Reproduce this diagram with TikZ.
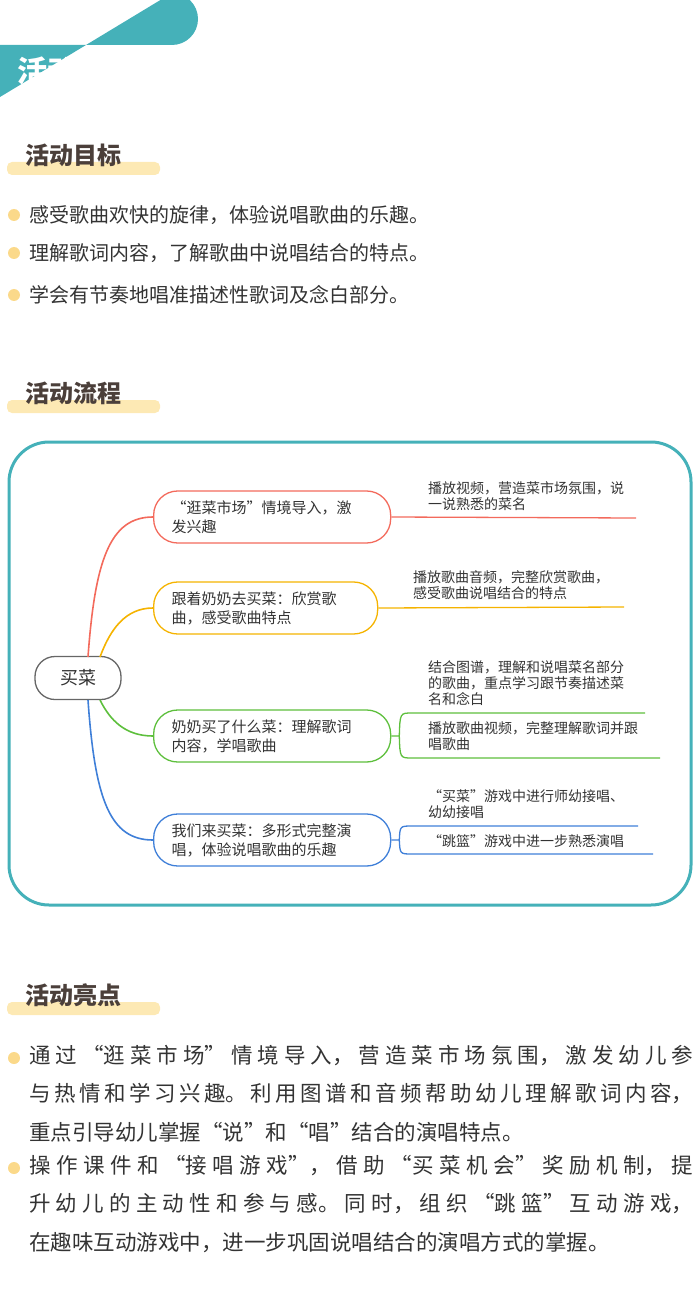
\documentclass[tikz,border=0pt]{standalone}
\usepackage{fontspec}
\setmainfont{Noto Sans CJK SC}
\XeTeXlinebreaklocale "zh"
\XeTeXlinebreakskip=0pt plus 3pt
\usetikzlibrary{positioning}
\definecolor{teal}{HTML}{45B1B9}
\definecolor{barY}{HTML}{FDE9B4}
\definecolor{dotY}{HTML}{FBD98A}
\definecolor{brownT}{HTML}{4B3F3A}
\definecolor{txt}{HTML}{333333}
\definecolor{mRed}{HTML}{F36A5C}
\definecolor{mOrange}{HTML}{F5B300}
\definecolor{mGreen}{HTML}{5DBF3C}
\definecolor{mBlue}{HTML}{3F7FD8}
\tikzset{%
    title/.style={font=\fontsize{24}{24}\selectfont\bfseries, text=brownT, anchor=west, inner sep=0pt},
    point/.style={font=\fontsize{20}{20}\selectfont, text=txt, anchor=west, inner sep=0pt},
    branch/.style 2 args={draw=#1, line width=1.3pt, rounded corners=24pt, minimum height=52pt, text width=#2,
        font=\fontsize{15}{19}\selectfont, text=txt, align=left, anchor=west, inner xsep=18pt},
    leaf/.style={font=\fontsize{14}{16}\selectfont, text=txt, align=left, anchor=south west, inner sep=0pt},
    link/.style={draw=#1, line width=1.6pt}
}
\begin{document}
\begin{tikzpicture}[x=1pt,y=-1pt]
\useasboundingbox (0,0) rectangle (699,1305);
% header
\fill[teal] (0,45) -- (172,45) arc (90:-90:26) -- (0,97) -- cycle;
\node[anchor=west, text=white, font=\fontsize{30}{30}\selectfont\bfseries, inner sep=0pt] (head) at (17,71) {活动介绍：};
% section titles
\foreach \y/\t [count=\i] in {155/活动目标, 393/活动流程, 995/活动亮点}{
    \fill[barY, rounded corners=5pt] (7,\y+7) rectangle (160,\y+20);
    \node[title] (sec\i) at (25,\y) {\t};
}
% goals
\foreach \y/\t [count=\i] in {215/感受歌曲欢快的旋律，体验说唱歌曲的乐趣。, 253/理解歌词内容，了解歌曲中说唱结合的特点。, 295/学会有节奏地唱准描述性歌词及念白部分。}{
    \fill[dotY] (14,\y) circle (6);
    \node[point] (goal\i) at (29,\y) {\t};
}
% mind map frame
\draw[teal, line width=3pt, rounded corners=40pt] (9,442) rectangle (691,905);
\node[draw=gray!80!black, line width=1.3pt, rounded corners=20pt, minimum width=86pt, minimum height=43pt,
      font=\fontsize{18}{18}\selectfont, text=txt] (root) at (78,678) {买菜};
\node[branch={mRed}{201pt}] (b1) at (153,517) {“逛菜市场”情境导入，激\\发兴趣};
\node[branch={mOrange}{188pt}] (b2) at (153,608) {跟着奶奶去买菜：欣赏歌\\曲，感受歌曲特点};
\node[branch={mGreen}{201pt}] (b3) at (153,736) {奶奶买了什么菜：理解歌词\\内容，学唱歌曲};
\node[branch={mBlue}{201pt}] (b4) at (153,840) {我们来买菜：多形式完整演\\唱，体验说唱歌曲的乐趣};
% root links
\draw[link=mRed] (88,657) .. controls (95,560) and (110,517) .. (b1.west);
\draw[link=mOrange] (100,657) .. controls (110,630) and (125,608) .. (b2.west);
\draw[link=mGreen] (100,700) .. controls (110,720) and (125,736) .. (b3.west);
\draw[link=mBlue] (88,700) .. controls (95,800) and (110,840) .. (b4.west);
% leaves
\coordinate (e1) at (636,518);
\draw[mRed, line width=1.3pt] (b1.east) -- (e1);
\node[leaf] (l1) at (428,511) {播放视频，营造菜市场氛围，说\\一说熟悉的菜名};
\coordinate (e2) at (624,607);
\draw[mOrange, line width=1.3pt] (b2.east) -- (e2);
\node[leaf] (l2) at (413,600) {播放歌曲音频，完整欣赏歌曲，\\感受歌曲说唱结合的特点};
\coordinate (e3a) at (645,713); \coordinate (e3b) at (660,758);
\draw[mGreen, line width=1.3pt] (b3.east) -- ++(8,0) .. controls (400,713) .. (412,713) -- (e3a);
\draw[mGreen, line width=1.3pt] (b3.east) ++(8,0) .. controls (400,758) .. (412,758) -- (e3b);
\node[leaf] (l3a) at (428,706) {结合图谱，理解和说唱菜名部分\\的歌曲，重点学习跟节奏描述菜\\名和念白};
\node[leaf] (l3b) at (428,751) {播放歌曲视频，完整理解歌词并跟\\唱歌曲};
\coordinate (e4a) at (638,826); \coordinate (e4b) at (653,854);
\draw[mBlue, line width=1.3pt] (b4.east) -- ++(8,0) .. controls (400,826) .. (412,826) -- (e4a);
\draw[mBlue, line width=1.3pt] (b4.east) ++(8,0) .. controls (400,854) .. (412,854) -- (e4b);
\node[leaf] (l4a) at (428,819) {“买菜”游戏中进行师幼接唱、\\幼幼接唱};
\node[leaf] (l4b) at (428,848) {“跳篮”游戏中进一步熟悉演唱};
% highlights
\fill[dotY] (14,1058) circle (6);
\fill[dotY] (14,1168) circle (6);
\node[anchor=north west, inner sep=0pt, text width=664pt, align=justify, text=txt,
      font=\fontsize{21.5}{38.5}\selectfont] (hl1) at (29,1045)
  {通过“逛菜市场”情境导入，营造菜市场氛围，激发幼儿参\linebreak 与热情和学习兴趣。利用图谱和音频帮助幼儿理解歌词内容，\linebreak 重点引导幼儿掌握“说”和“唱”结合的演唱特点。};
\node[anchor=north west, inner sep=0pt, text width=664pt, align=justify, text=txt,
      font=\fontsize{21.5}{38.5}\selectfont] (hl2) at (29,1155)
  {操作课件和“接唱游戏”，借助“买菜机会”奖励机制，提\linebreak 升幼儿的主动性和参与感。同时，组织“跳篮”互动游戏，\linebreak 在趣味互动游戏中，进一步巩固说唱结合的演唱方式的掌握。};
\end{tikzpicture}
\end{document}
